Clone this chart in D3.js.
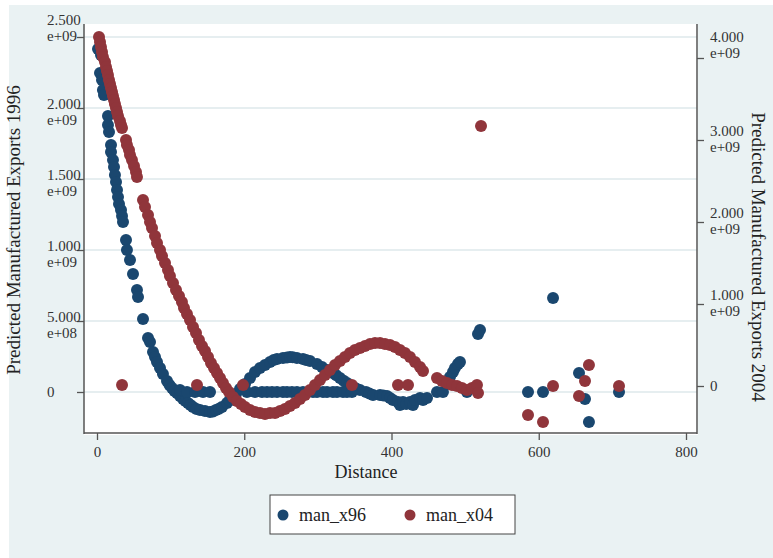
<!DOCTYPE html>
<html>
<head>
<meta charset="utf-8">
<script src="https://cdn.jsdelivr.net/npm/d3@7"></script>
<style>
  body { margin: 0; background: #fff; }
  svg { display: block; }
  text { font-family: "Liberation Serif", "Times New Roman", serif; }
</style>
</head>
<body>
<svg id="chart" width="773" height="558"></svg>
<script>
// [distance, predicted exports in e+09]
const man_x96 = [
  [1.4,2.415],[4.1,2.246],[5.4,2.373],[6.8,2.197],[8.1,2.127],[9.5,2.092],
  [14.9,1.944],[14.9,1.880],[16.3,1.831],[19.0,1.739],[19.0,1.690],[21.7,1.634],[23.1,1.585],[24.4,1.528],
  [25.8,1.479],[27.2,1.423],[28.5,1.373],[29.9,1.324],[32.6,1.282],[34.0,1.239],[35.3,1.197],
  [39.4,1.070],[40.7,1.000],[44.8,0.930],[48.9,0.831],[54.3,0.718],[55.7,0.669],[62.5,0.514],
  [69.3,0.380],[72.0,0.352],[76.1,0.282],[78.8,0.246],[81.5,0.211],[85.6,0.169],[89.6,0.127],[95.1,0.077],
  [98.5,0.049],[101.9,0.028],[105.3,0.007],[108.7,-0.007],[112.7,-0.028],[116.8,-0.049],[120.2,-0.063],
  [123.6,-0.077],[127.0,-0.092],[130.4,-0.106],[135.2,-0.120],[139.9,-0.127],[146.7,-0.134],[153.5,-0.141],
  [157.6,-0.137],[161.6,-0.127],[165.7,-0.118],[169.8,-0.106],[176.6,-0.077],[180.0,-0.060],[183.4,-0.042],
  [188.8,-0.014],[194.2,0.021],[201.0,0.056],[207.8,0.099],[214.6,0.141],[221.4,0.169],[228.2,0.190],
  [235.0,0.211],[240.0,0.225],[244.5,0.232],[252.6,0.239],[258.0,0.243],[262.1,0.246],[266.0,0.245],
  [271.6,0.239],[279.8,0.232],[284.0,0.225],[289.3,0.218],[298.8,0.197],[305.6,0.176],[312.4,0.155],
  [316.0,0.145],[320.5,0.134],[325.0,0.118],[330.0,0.099],[335.0,0.080],[339.6,0.063],[343.0,0.049],
  [347.7,0.035],[352.0,0.025],[357.2,0.014],[365.4,0],[370.0,-0.010],[374.9,-0.021],[384.4,-0.021],
  [389.0,-0.025],[393.9,-0.028],[398.0,-0.042],[402.0,-0.056],[408.8,-0.070],[411.5,-0.092],[415.6,-0.070],
  [420.0,-0.085],[425.1,-0.070],[429.2,-0.092],[431.9,-0.056],[438.7,-0.042],[442.8,-0.056],[448.2,-0.042],
  [112.7,0.014],[122.2,0],[133.1,0],[144.0,0],[153.5,0],[203.7,0],[214.6,0],[224.1,0],[230.9,0],[237.7,0],
  [244.5,0],[252.6,0],[258.1,0],[264.8,0],[271.6,0],[279.8,0],[293.4,0],[298.8,0],[307.0,0],[312.4,0],
  [320.5,0],[326.0,0],[334.1,0],[339.6,0],[346.3,0],[461.8,0],[469.9,0],[502.5,0],[585.4,0],[605.8,0],[709.0,0],
  [475.4,0.063],[479.4,0.106],[483.5,0.141],[486.2,0.169],[490.3,0.197],[493.0,0.211],[517.5,0.408],[520.2,0.437],
  [619.4,0.662],[654.7,0.134],[662.8,-0.049],[668.2,-0.211]
]

const man_x04 = [
  [2.7,4.256],[4.1,4.195],[5.4,4.134],[6.8,4.073],[8.1,4.012],[10.9,3.951],[12.2,3.890],[13.6,3.841],
  [14.9,3.793],[16.3,3.732],[17.7,3.683],[19.0,3.634],[20.4,3.585],[21.7,3.537],[23.1,3.488],[24.4,3.439],
  [25.8,3.390],[27.2,3.341],[28.5,3.293],[31.2,3.232],[32.6,3.183],[34.0,3.146],
  [39.4,3.000],[40.7,2.939],[43.5,2.878],[44.8,2.817],[47.5,2.756],[50.3,2.683],[53.0,2.610],[54.3,2.549],
  [62.5,2.268],[65.2,2.183],[69.3,2.085],[72.0,2.000],[74.7,1.927],[78.8,1.829],[81.5,1.744],[85.6,1.659],
  [88.3,1.585],[92.4,1.500],[96.4,1.415],[99.1,1.341],[103.2,1.256],[107.3,1.171],[111.4,1.098],[115.4,1.024],
  [118.2,0.951],[122.2,0.878],[126.3,0.805],[130.4,0.720],[134.5,0.646],[138.5,0.561],[142.6,0.488],
  [146.7,0.427],[150.8,0.354],[154.8,0.280],[158.9,0.220],[163.0,0.159],[167.1,0.098],[171.1,0.037],
  [175.2,-0.024],[179.3,-0.073],[184.7,-0.134],[190.1,-0.183],[195.6,-0.220],[201.0,-0.256],[207.8,-0.293],
  [214.6,-0.317],[221.4,-0.329],[228.2,-0.341],[235.0,-0.329],[241.8,-0.329],[248.6,-0.305],[255.3,-0.280],
  [262.1,-0.244],[268.9,-0.207],[275.7,-0.159],[282.5,-0.110],[289.3,-0.049],[296.1,0.012],[302.9,0.073],
  [309.7,0.134],[316.5,0.195],[323.3,0.256],[330.0,0.305],[336.8,0.354],[343.6,0.402],[350.4,0.439],
  [357.2,0.463],[364.0,0.488],[370.8,0.512],[377.6,0.524],[384.4,0.524],[391.2,0.512],[398.0,0.500],
  [404.7,0.476],[411.5,0.439],[418.3,0.402],[425.1,0.354],[431.9,0.293],[438.7,0.232],[442.8,0.183],
  [461.8,0.098],[468.6,0.061],[475.4,0.037],[482.2,0.012],[489.0,0],[495.7,-0.024],[502.5,-0.049],
  [509.3,-0.024],[516.1,0.012],[517.5,-0.085],
  [34.0,0.012],[135.8,0.012],[198.3,0.012],[346.3,0.012],[408.8,0.012],[422.4,0.012],[619.4,0],[709.0,0],
  [521.6,3.171],[585.4,-0.354],[605.8,-0.439],[654.7,-0.122],[662.8,0.061],[668.2,0.256]
]

const xTicks = [0, 200, 400, 600, 800]
const leftTicks = [0, 0.5, 1.0, 1.5, 2.0, 2.5]
const leftLabels = ["0", "5.000\ne+08", "1.000\ne+09", "1.500\ne+09", "2.000\ne+09", "2.500\ne+09"]
const rightTicks = [0, 1, 2, 3, 4]
const rightLabels = ["0", "1.000\ne+09", "2.000\ne+09", "3.000\ne+09", "4.000\ne+09"]
const seriesNames = ["man_x96", "man_x04"]
const colors = ["#1a476f", "#90353b"]

let svg = d3.select("#chart")

// область графика
const area = { left: 84, right: 697, top: 24, bottom: 434 }

svg.append("rect").attr("x", 9).attr("y", 5).attr("width", 764).attr("height", 553).style("fill", "#eaf2f3")
svg.append("rect")
  .attr("x", area.left).attr("y", area.top)
  .attr("width", area.right - area.left + 1).attr("height", area.bottom - area.top + 1)
  .style("fill", "#fff")

let scaleX = d3.scaleLinear().domain([0, 800]).range([97, 686])
let scaleYL = d3.scaleLinear().domain([0, 2.5]).range([392, 37])
let scaleYR = d3.scaleLinear().domain([0, 4]).range([386, 58])

// сетка по левой оси
svg.selectAll(".grid")
  .data(leftTicks)
  .enter()
  .append("line")
  .attr("x1", area.left).attr("x2", area.right)
  .attr("y1", d => scaleYL(d)).attr("y2", d => scaleYL(d))
  .style("stroke", "#e6eef0").style("stroke-width", 2)

// оси
let axisX = d3.axisBottom(scaleX).tickValues(xTicks).tickSize(7).tickSizeOuter(0).tickPadding(6)
let gx = svg.append("g").attr("transform", `translate(0, ${area.bottom - 1})`).call(axisX)
gx.select(".domain").remove()
gx.selectAll("text").style("font-size", "15px").style("fill", "#333").style("font-family", "Liberation Serif")

let axisL = d3.axisLeft(scaleYL).tickValues(leftTicks).tickSize(7).tickSizeOuter(0).tickFormat("")
let gl = svg.append("g").attr("transform", `translate(${area.left}, 0)`).call(axisL)
gl.select(".domain").remove()

let axisR = d3.axisRight(scaleYR).tickValues(rightTicks).tickSize(7).tickSizeOuter(0).tickFormat("")
let gr = svg.append("g").attr("transform", `translate(${area.right}, 0)`).call(axisR)
gr.select(".domain").remove()

svg.selectAll(".tick line").style("stroke", "#555").style("stroke-width", 1.3)

// подписи в две строки; верхняя подпись сдвигается, чтобы не вылезти за рамку
function twoLineLabels(g, ticks, labels, scale, x, shift, topShift) {
  ticks.forEach((t, i) => {
    let lines = labels[i].split("\n")
    let y = scale(t)
    let txt = g.append("text")
      .attr("x", x)
      .style("font-size", "15px").style("fill", "#333")
    if (lines.length == 1) {
      txt.attr("y", y + 5).text(lines[0])
    } else {
      let b = y + (i == ticks.length - 1 ? topShift : shift)
      txt.append("tspan").attr("x", x).attr("y", b).text(lines[0])
      txt.append("tspan").attr("x", x).attr("y", b + 16).text(lines[1])
    }
  })
}
twoLineLabels(svg, leftTicks, leftLabels, scaleYL, 47, 1, -12)
twoLineLabels(svg, rightTicks, rightLabels, scaleYR, 710, -4, -16)

// линии осей
svg.append("line").attr("x1", area.left).attr("x2", area.left).attr("y1", area.top).attr("y2", area.bottom)
  .style("stroke", "#555").style("stroke-width", 1.5)
svg.append("line").attr("x1", area.right).attr("x2", area.right).attr("y1", area.top).attr("y2", area.bottom)
  .style("stroke", "#555").style("stroke-width", 1.5)
svg.append("line").attr("x1", area.left).attr("x2", area.right).attr("y1", area.bottom - 1).attr("y2", area.bottom - 1)
  .style("stroke", "#555").style("stroke-width", 1.5)

// заголовки осей
svg.append("text")
  .attr("transform", "translate(20, 230) rotate(-90)")
  .style("text-anchor", "middle").style("font-size", "19px").style("fill", "#222")
  .text("Predicted Manufactured Exports 1996")
svg.append("text")
  .attr("transform", "translate(752, 257) rotate(90)")
  .style("text-anchor", "middle").style("font-size", "19px").style("fill", "#222")
  .text("Predicted Manufactured Exports 2004")
svg.append("text")
  .attr("x", 366).attr("y", 478)
  .style("text-anchor", "middle").style("font-size", "18px").style("fill", "#222")
  .text("Distance")

// точки
svg.selectAll(".dot96")
  .data(man_x96)
  .enter()
  .append("circle")
  .attr("class", "dot96")
  .attr("r", 6)
  .attr("cx", d => scaleX(d[0]))
  .attr("cy", d => scaleYL(d[1]))
  .style("fill", colors[0])

svg.selectAll(".dot04")
  .data(man_x04)
  .enter()
  .append("circle")
  .attr("class", "dot04")
  .attr("r", 6)
  .attr("cx", d => scaleX(d[0]))
  .attr("cy", d => scaleYR(d[1]))
  .style("fill", colors[1])

// легенда
svg.append("rect").attr("x", 270).attr("y", 495).attr("width", 245).attr("height", 39)
  .style("fill", "#fff").style("stroke", "#444").style("stroke-width", 1)

const legendX = [283, 410]
seriesNames.forEach((name, i) => {
  svg.append("circle").attr("cx", legendX[i]).attr("cy", 515).attr("r", 5.5).style("fill", colors[i])
  svg.append("text").attr("x", legendX[i] + 16).attr("y", 521)
    .style("font-size", "18px").style("fill", "#222")
    .text(name)
})
</script>
</body>
</html>
